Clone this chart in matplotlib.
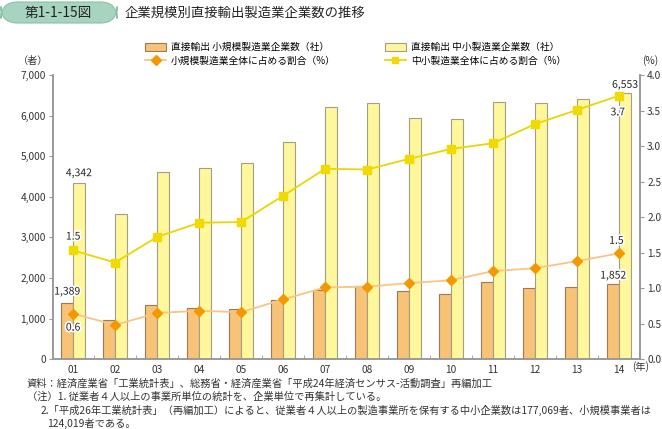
import numpy as np
import matplotlib
matplotlib.use("Agg")
from matplotlib import pyplot as plt
from matplotlib.patches import FancyBboxPatch, Patch
from matplotlib.lines import Line2D
from matplotlib.ticker import FuncFormatter, MultipleLocator
import matplotlib.patheffects as pe

plt.rcParams['font.family'] = ['Noto Sans CJK JP', 'DejaVu Sans']

# データ
years = ['01', '02', '03', '04', '05', '06', '07', '08', '09', '10', '11', '12', '13', '14']
small_cnt = [1389, 960, 1335, 1255, 1245, 1455, 1705, 1790, 1670, 1610, 1900, 1750, 1785, 1852]
sme_cnt = [4342, 3580, 4610, 4710, 4840, 5355, 6205, 6310, 5935, 5920, 6340, 6310, 6400, 6553]
small_ratio = [0.64, 0.48, 0.65, 0.68, 0.66, 0.84, 1.01, 1.02, 1.07, 1.11, 1.24, 1.28, 1.38, 1.49]
sme_ratio = [1.53, 1.36, 1.72, 1.92, 1.93, 2.30, 2.68, 2.67, 2.82, 2.96, 3.04, 3.31, 3.51, 3.71]

c_small = '#F8C277'
c_small_edge = '#9C7B55'
c_sme = '#FFF79C'
c_sme_edge = '#A39E88'
c_oline = '#F9C583'
c_omark = '#F39800'
c_yline = '#EAD600'
c_ymark = '#F0DA00'
c_axis = '#9A9A9A'

fig = plt.figure(figsize=(6.62, 4.29), dpi=100)
ax = fig.add_axes([0.080, 0.163, 0.887, 0.662])
ax2 = ax.twinx()

x = np.arange(len(years))
w = 0.28
ax.bar(x - w / 2, small_cnt, w, color=c_small, edgecolor=c_small_edge, linewidth=0.8)
ax.bar(x + w / 2, sme_cnt, w, color=c_sme, edgecolor=c_sme_edge, linewidth=0.8)

ax2.plot(x, small_ratio, color=c_oline, lw=1.3, marker='D', ms=5.5,
         mfc=c_omark, mec=c_omark)
ax2.plot(x, sme_ratio, color=c_yline, lw=1.3, marker='s', ms=5.5,
         mfc=c_ymark, mec=c_ymark)

ax.set_xlim(-0.48, 13.5)
ax.set_ylim(0, 7000)
ax2.set_ylim(0, 4.0)
ax.yaxis.set_major_locator(MultipleLocator(1000))
ax.yaxis.set_major_formatter(FuncFormatter(lambda v, p: f'{int(v):,}'))
ax2.yaxis.set_major_locator(MultipleLocator(0.5))
ax2.yaxis.set_major_formatter(FuncFormatter(lambda v, p: f'{v:.1f}'))

ax.set_xticks(x)
ax.set_xticklabels(years)
ax.set_xticks(x[:-1] + 0.5, minor=True)
ax.tick_params(axis='x', which='major', length=0, labelsize=7.3, colors='#333333', pad=4)
ax.tick_params(axis='x', which='minor', length=3, direction='in', color=c_axis)
ax.tick_params(axis='y', length=3, color=c_axis, labelsize=7.3, labelcolor='#333333', pad=2)
ax2.tick_params(axis='y', length=3, color=c_axis, labelsize=7.3, labelcolor='#333333', pad=2)

for a in (ax, ax2):
    a.spines['top'].set_visible(False)
    for s in ('left', 'right', 'bottom'):
        a.spines[s].set_color(c_axis)
        a.spines[s].set_linewidth(1.2)

# 数値ラベル
stroke = [pe.withStroke(linewidth=2.5, foreground='white')]
lab = dict(ha='center', va='center', fontsize=7.5, color='#222222', path_effects=stroke)
ax.annotate(f'{sme_cnt[0]:,}', (x[0] + w / 2, sme_cnt[0]), xytext=(0, 7),
            textcoords='offset points', **lab)
ax.annotate(f'{small_cnt[0]:,}', (x[0] - w / 2, small_cnt[0]), xytext=(0, 8),
            textcoords='offset points', **lab)
ax.annotate(f'{sme_cnt[-1]:,}', (x[-1] + w / 2, sme_cnt[-1]), xytext=(0, 6),
            textcoords='offset points', **lab)
ax.annotate(f'{small_cnt[-1]:,}', (x[-1] - w / 2, small_cnt[-1]), xytext=(0, 6),
            textcoords='offset points', **lab)
ax2.annotate(f'{sme_ratio[0]:.1f}', (x[0], sme_ratio[0]), xytext=(0, 10),
             textcoords='offset points', **lab)
ax2.annotate(f'{small_ratio[0]:.1f}', (x[0], small_ratio[0]), xytext=(0, -10),
             textcoords='offset points', **lab)
ax2.annotate(f'{sme_ratio[-1]:.1f}', (x[-1], sme_ratio[-1]), xytext=(-1, -12),
             textcoords='offset points', **lab)
ax2.annotate(f'{small_ratio[-1]:.1f}', (x[-1], small_ratio[-1]), xytext=(-2, 9),
             textcoords='offset points', **lab)

# 単位
fig.text(33 / 662, 1 - 61 / 429, '（者）', ha='center', va='center', fontsize=7.3, color='#333333')
fig.text(650 / 662, 1 - 61 / 429, '(%)', ha='center', va='center', fontsize=7.3, color='#333333')
fig.text(641 / 662, 1 - 367 / 429, '(年)', ha='center', va='center', fontsize=7.3, color='#333333')

# 凡例
handles = [
    Patch(facecolor=c_small, edgecolor=c_small_edge, linewidth=0.8),
    Line2D([], [], color=c_oline, lw=1.3, marker='D', ms=5, mfc=c_omark, mec=c_omark),
    Patch(facecolor=c_sme, edgecolor=c_sme_edge, linewidth=0.8),
    Line2D([], [], color=c_yline, lw=1.3, marker='s', ms=5, mfc=c_ymark, mec=c_ymark),
]
labels = ['直接輸出 小規模製造業企業数（社）', '小規模製造業全体に占める割合（%）',
          '直接輸出 中小製造業企業数（社）', '中小製造業全体に占める割合（%）']
fig.legend(handles, labels, ncol=2, loc='center left', bbox_to_anchor=(140 / 662, 1 - 54 / 429),
           frameon=False, fontsize=7, handlelength=2.2, handleheight=0.8, columnspacing=5.0,
           labelspacing=0.35, handletextpad=0.5, borderpad=0)

# タイトル
box = FancyBboxPatch((1 / 662, 1 - 23 / 429), 116 / 662, 21 / 429,
                     boxstyle='round,pad=0,rounding_size=0.025',
                     transform=fig.transFigure, facecolor='#A7D4BF', edgecolor='#8CBFA8',
                     linewidth=0.8, mutation_aspect=662 / 429)
fig.patches.append(box)
fig.text(58 / 662, 1 - 13 / 429, '第1-1-15図', ha='center', va='center', fontsize=9.8, color='#222222')
fig.text(125 / 662, 1 - 13 / 429, '企業規模別直接輸出製造業企業数の推移', ha='left', va='center',
         fontsize=9.6, color='#222222')

# 注記
notes = [
    (27, 384, '資料：経済産業省「工業統計表」、総務省・経済産業省「平成24年経済センサス-活動調査」再編加工'),
    (27, 397, '（注）1. 従業者４人以上の事業所単位の統計を、企業単位で再集計している。'),
    (41, 410, '2.「平成26年工業統計表」（再編加工）によると、従業者４人以上の製造事業所を保有する中小企業数は177,069者、小規模事業者は'),
    (47, 423, '124,019者である。'),
]
for nx, ny, t in notes:
    fig.text(nx / 662, 1 - ny / 429, t, ha='left', va='center', fontsize=7.4, color='#333333')

fig.savefig('out.png', dpi=100)
